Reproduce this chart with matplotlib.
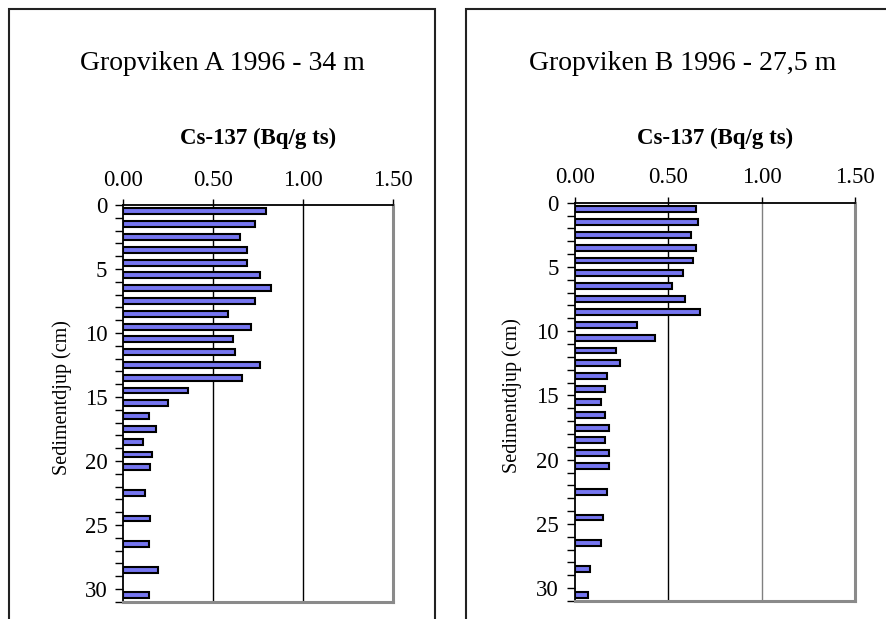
import matplotlib
matplotlib.use("Agg")
import matplotlib.pyplot as plt
from matplotlib.patches import Rectangle

plt.rcParams['font.family'] = ['Liberation Serif', 'DejaVu Serif']

# depth (cm, slice midpoints) and Cs-137 activity (Bq/g ts)
depth_a = [0.5, 1.5, 2.5, 3.5, 4.5, 5.5, 6.5, 7.5, 8.5, 9.5, 10.5, 11.5, 12.5, 13.5,
           14.5, 15.5, 16.5, 17.5, 18.5, 19.5, 20.5, 22.5, 24.5, 26.5, 28.5, 30.5]
cs_a = [0.79, 0.73, 0.65, 0.69, 0.69, 0.76, 0.82, 0.73, 0.58, 0.71, 0.61, 0.62, 0.76, 0.66,
        0.36, 0.25, 0.14, 0.18, 0.11, 0.16, 0.15, 0.12, 0.15, 0.14, 0.19, 0.14]

depth_b = [0.5, 1.5, 2.5, 3.5, 4.5, 5.5, 6.5, 7.5, 8.5, 9.5, 10.5, 11.5, 12.5, 13.5,
           14.5, 15.5, 16.5, 17.5, 18.5, 19.5, 20.5, 22.5, 24.5, 26.5, 28.5, 30.5]
cs_b = [0.65, 0.66, 0.62, 0.65, 0.63, 0.58, 0.52, 0.59, 0.67, 0.33, 0.43, 0.22, 0.24, 0.17,
        0.16, 0.14, 0.16, 0.18, 0.16, 0.18, 0.18, 0.17, 0.15, 0.14, 0.08, 0.07]

titles = ["Gropviken A 1996 - 34 m", "Gropviken B 1996 - 27,5 m"]
x_ticks = [0.0, 0.5, 1.0, 1.5]
y_labels = [0, 5, 10, 15, 20, 25, 30]

W, H = 887, 619
PT = 0.72  # pixels -> points at dpi 100
fig = plt.figure(figsize=(W / 100, H / 100), dpi=100)

def fx(px):
    return px / W

def fy(py):
    return 1 - py / H

# outer chart boxes
for (l, r) in [(9.5, 435.5), (466, 900)]:
    fig.patches.append(Rectangle((fx(l), fy(640)), fx(r) - fx(l), fy(9) - fy(640),
                                 transform=fig.transFigure, fill=False,
                                 edgecolor='#222222', lw=1.5))

# plot areas: left, top, right, bottom in pixels
areas = [(123.3, 205, 393.3, 601.7), (575, 202.7, 855.3, 601)]
box_centers = [222.5, 683]
ylabel_x = [62, 512]
grid_cols = [['black', 'black'], ['black', '#808080']]

for i, (depth, vals) in enumerate([(depth_a, cs_a), (depth_b, cs_b)]):
    l, t, r, b = areas[i]
    ax = fig.add_axes([fx(l), fy(b), fx(r) - fx(l), fy(t) - fy(b)])
    ax.barh(depth, vals, height=0.46, color='#7676F0', edgecolor='black', lw=1.5, zorder=3)
    ax.set_xlim(0, 1.5)
    ax.set_ylim(31, 0)

    for xv, c in zip([0.5, 1.0], grid_cols[i]):
        ax.axvline(xv, color=c, lw=1.0, zorder=1)

    ax.xaxis.tick_top()
    ax.set_xticks(x_ticks)
    ax.set_xticklabels([f"{v:.2f}" for v in x_ticks])
    ax.tick_params(axis='x', direction='out', length=6 * PT, width=1, pad=8.5 * PT,
                   labelsize=16.5)
    ax.set_yticks(range(0, 32), minor=True)
    ax.set_yticks(y_labels)
    ax.tick_params(axis='y', which='both', direction='out', length=8 * PT, width=1,
                   pad=8 * PT, labelsize=16.5)

    for s in ['left', 'top']:
        ax.spines[s].set_color('black')
        ax.spines[s].set_linewidth(1.3)
    for s in ['right', 'bottom']:
        ax.spines[s].set_color('#8a8a8a')
        ax.spines[s].set_linewidth(2.2)

    ax.set_ylabel("Sedimentdjup (cm)", fontsize=14.5, va='center')
    ax.yaxis.set_label_coords((ylabel_x[i] - l) / (r - l), 0.515)

    fig.text(fx((l + r) / 2), fy(138), "Cs-137 (Bq/g ts)", ha='center', va='center',
             fontsize=16.5, fontweight='bold')
    fig.text(fx(box_centers[i]), fy(64), titles[i], ha='center', va='center', fontsize=20)

fig.savefig("out.png", dpi=100)
